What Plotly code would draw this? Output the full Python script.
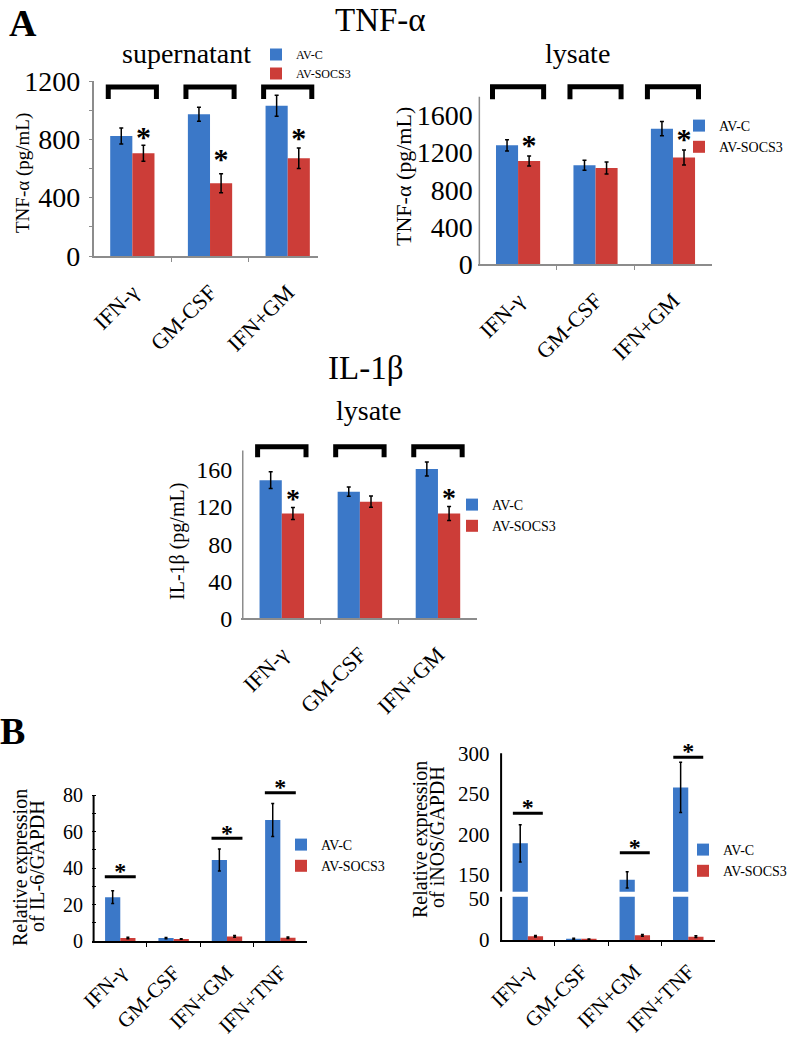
import plotly.graph_objects as go

W, H = 787, 1040
BLUE = "#3b78c8"
RED = "#cc3d38"
SERIF = "Liberation Serif"
GREY = "#8c8c8c"
BARGAP = 0.43
OFF = (1 - BARGAP) / 4  # centre offset of each bar within a group

series = ["AV-C", "AV-SOCS3"]

# ---------------- Panel A: TNF-α supernatant ----------------
a1_cats = ["IFN-γ", "GM-CSF", "IFN+GM"]
a1_avc = [823, 972, 1031]
a1_avc_err = [55, 48, 72]
a1_socs = [705, 499, 670]
a1_socs_err = [55, 65, 70]
a1_yticks = [0, 200, 400, 600, 800, 1000, 1200]
a1_ylabels = ["0", "", "400", "", "800", "", "1200"]
a1_star_y = [800, 651, 789]
a1_bracket = [1077, 1159]        # leg end, top
a1_ymax = 1200

# ---------------- Panel A: TNF-α lysate ----------------
a2_cats = ["IFN-γ", "GM-CSF", "IFN+GM"]
a2_avc = [1278, 1064, 1457]
a2_avc_err = [60, 54, 77]
a2_socs = [1110, 1035, 1147]
a2_socs_err = [54, 64, 80]
a2_yticks = [0, 400, 800, 1200, 1600]
a2_star_y = [1250, None, 1322]
a2_bracket = [1772, 1908]
a2_ymax = 1800

# ---------------- Panel A: IL-1β lysate ----------------
a3_cats = ["IFN-γ", "GM-CSF", "IFN+GM"]
a3_avc = [149, 136.6, 161]
a3_avc_err = [9, 5, 7.5]
a3_socs = [113, 125.8, 113]
a3_socs_err = [6.5, 6, 7.5]
a3_yticks = [0, 40, 80, 120, 160]
a3_star_y = [127, None, 127.6]
a3_bracket = [173.7, 185.1]
a3_ymax = 181

# ---------------- Panel B: IL-6 ----------------
b1_cats = ["IFN-γ", "GM-CSF", "IFN+GM", "IFN+TNF"]
b1_avc = [24, 1.6, 44.4, 66.3]
b1_avc_err = [3.5, 0.3, 6, 9]
b1_socs = [1.6, 1.1, 2.5, 1.8]
b1_socs_err = [0.4, 0.2, 0.5, 0.4]
b1_yticks = [0, 10, 20, 30, 40, 50, 60, 70, 80]
b1_ylabels = ["0", "", "20", "", "40", "", "60", "", "80"]
b1_sig_y = [35.2, None, 56.3, 81.3]
b1_star_y = [37.5, None, 58.3, 83.5]
b1_ymax = 80

# ---------------- Panel B: iNOS (broken axis) ----------------
b2_cats = ["IFN-γ", "GM-CSF", "IFN+GM", "IFN+TNF"]
b2_avc = [189, 1.5, 144, 258]
b2_avc_err = [23, 0.5, 10, 31]
b2_socs = [4.5, 1.0, 5.6, 4.0]
b2_socs_err = [1, 0.3, 1, 1]
b2_low_ticks = [0, 50]
b2_high_ticks = [150, 200, 250, 300]
b2_low_range = [0, 52]
b2_high_range = [129.4, 310]
b2_high_max = 300
b2_sig_y = [226, None, 177.5, 295]
b2_star_y = [231, None, 181.6, 301]


def px_x(p):
    return p / W


def px_y(p):
    return 1 - p / H


fig = go.Figure()


def add_bars(xa, ya, cats, blue, blue_err, red, red_err, legend, showlegend=True, ew=2):
    xs = list(range(len(cats)))
    for name, vals, errs, color in ((series[0], blue, blue_err, BLUE),
                                    (series[1], red, red_err, RED)):
        fig.add_trace(go.Bar(
            x=xs, y=vals, name=name, xaxis=xa, yaxis=ya,
            marker=dict(color=color, line=dict(width=0)),
            error_y=dict(type="data", array=errs, color="black", thickness=1.5, width=ew),
            legend=legend, showlegend=showlegend, hoverinfo="skip"))


def add_brackets(xa, ya, n, levels, half):
    leg, top = levels
    xs, ys = [], []
    for i in range(n):
        xs += [i - half, i - half, i + half, i + half, None]
        ys += [leg, top, top, leg, None]
    fig.add_trace(go.Scatter(x=xs, y=ys, mode="lines", xaxis=xa, yaxis=ya,
                             line=dict(color="black", width=5), showlegend=False,
                             hoverinfo="skip"))


def add_sig_lines(xa, ya, levels, half):
    xs, ys = [], []
    for i, v in enumerate(levels):
        if v is None:
            continue
        xs += [i - half, i + half, None]
        ys += [v, v, None]
    fig.add_trace(go.Scatter(x=xs, y=ys, mode="lines", xaxis=xa, yaxis=ya,
                             line=dict(color="black", width=3), showlegend=False,
                             hoverinfo="skip"))


def add_stars(xa, ya, levels, dx, size):
    xs = [i + dx for i, v in enumerate(levels) if v is not None]
    ys = [v for v in levels if v is not None]
    fig.add_trace(go.Scatter(x=xs, y=ys, mode="text", text=["<b>*</b>"] * len(xs),
                             textposition="middle center", xaxis=xa, yaxis=ya,
                             textfont=dict(family=SERIF, size=size, color="black"),
                             cliponaxis=False, showlegend=False, hoverinfo="skip"))


def add_yline(xa, ya, y0, y1, color, width):
    fig.add_trace(go.Scatter(x=[-0.5, -0.5], y=[y0, y1], mode="lines", xaxis=xa, yaxis=ya,
                             line=dict(color=color, width=width), showlegend=False,
                             hoverinfo="skip"))


# Panel A1
add_bars("x", "y", a1_cats, a1_avc, a1_avc_err, a1_socs, a1_socs_err, "legend")
add_brackets("x", "y", 3, a1_bracket, 0.31)
add_stars("x", "y", a1_star_y, OFF, 30)

# Panel A2
add_bars("x2", "y2", a2_cats, a2_avc, a2_avc_err, a2_socs, a2_socs_err, "legend2")
add_brackets("x2", "y2", 3, a2_bracket, 0.33)
add_stars("x2", "y2", a2_star_y, OFF, 30)
add_yline("x2", "y2", 0, a2_ymax, GREY, 1.5)

# Panel A3
add_bars("x3", "y3", a3_cats, a3_avc, a3_avc_err, a3_socs, a3_socs_err, "legend3")
add_brackets("x3", "y3", 3, a3_bracket, 0.31)
add_stars("x3", "y3", a3_star_y, OFF, 28)
add_yline("x3", "y3", 0, a3_ymax, GREY, 1.5)

# Panel B1
add_bars("x4", "y4", b1_cats, b1_avc, b1_avc_err, b1_socs, b1_socs_err, "legend4", ew=1.5)
add_sig_lines("x4", "y4", b1_sig_y, 0.29)
add_stars("x4", "y4", b1_star_y, 0, 24)
add_yline("x4", "y4", 0, b1_ymax, "black", 2)

# Panel B2 lower and upper
add_bars("x5", "y5", b2_cats, b2_avc, b2_avc_err, b2_socs, b2_socs_err, "legend5", ew=1.5)
add_yline("x5", "y5", 0, b2_low_range[1], "black", 2)
add_bars("x6", "y6", b2_cats, b2_avc, b2_avc_err, b2_socs, b2_socs_err, "legend5",
         showlegend=False, ew=1.5)
add_sig_lines("x6", "y6", b2_sig_y, 0.28)
add_stars("x6", "y6", b2_star_y, 0, 24)
add_yline("x6", "y6", b2_high_range[0], b2_high_max, "black", 2)


def xaxis(dom, rng, cats, anchor, linecolor, linewidth, font_size, standoff):
    n = len(cats)
    return dict(domain=[px_x(dom[0]), px_x(dom[1])], range=rng, anchor=anchor,
                automargin=False,
                tickmode="array", tickvals=list(range(n)), ticktext=cats,
                tickangle=-45, ticks="", showgrid=False, zeroline=False,
                tickfont=dict(family=SERIF, size=font_size, color="black"),
                showline=True, linecolor=linecolor, linewidth=linewidth,
                ticklabelstandoff=standoff,
                minor=dict(tickmode="array", tickvals=[i + 0.5 for i in range(n - 1)],
                           ticks="outside", ticklen=4, tickcolor=linecolor, tickwidth=1))


def yaxis(dom, rng, anchor, tickvals, ticktext, font_size, standoff, showline=False,
          ticks="", linecolor=GREY, linewidth=1.5, ticklen=3):
    return dict(domain=[px_y(dom[1]), px_y(dom[0])], range=rng, anchor=anchor,
                automargin=False,
                tickmode="array", tickvals=tickvals, ticktext=ticktext,
                tickfont=dict(family=SERIF, size=font_size, color="black"),
                showgrid=False, zeroline=False, showline=showline,
                linecolor=linecolor, linewidth=linewidth, ticks=ticks,
                ticklen=ticklen, tickcolor=linecolor, tickwidth=1,
                ticklabelstandoff=standoff)


layout_axes = dict(
    xaxis=xaxis((93.5, 318), [-0.5, 2.39], a1_cats, "y", GREY, 1.5, 22, 13),
    yaxis=yaxis((81, 256), [0, a1_ymax], "x", a1_yticks, a1_ylabels, 28, 3,
                showline=True, ticks="outside"),
    xaxis2=xaxis((477.8, 711.7), [-0.52, 2.5], a2_cats, "y2", GREY, 1.5, 22, 13),
    yaxis2=yaxis((78.1, 264.3), [0, 2000], "x2", a2_yticks, [str(v) for v in a2_yticks], 28, 4),
    xaxis3=xaxis((241.2, 477), [-0.52, 2.5], a3_cats, "y3", GREY, 1.5, 22, 13),
    yaxis3=yaxis((437.5, 618.3), [0, 195], "x3", a3_yticks, [str(v) for v in a3_yticks], 24, 8),
    xaxis4=xaxis((92, 307), [-0.53, 3.5], b1_cats, "y4", "black", 2, 21, 9),
    yaxis4=yaxis((776.75, 941), [0, 90], "x4", b1_yticks, b1_ylabels, 20, 8,
                 ticks="inside", linecolor="black", ticklen=4),
    xaxis5=xaxis((499.5, 715), [-0.53, 3.5], b2_cats, "y5", "black", 2, 21, 9),
    yaxis5=yaxis((896.7, 940), b2_low_range, "x5", b2_low_ticks,
                 [str(v) for v in b2_low_ticks], 21, 9),
    xaxis6=dict(domain=[px_x(499.5), px_x(715)], range=[-0.53, 3.5], anchor="y6",
                visible=False, showgrid=False, zeroline=False, automargin=False),
    yaxis6=yaxis((745.2, 891.7), b2_high_range, "x6", b2_high_ticks,
                 [str(v) for v in b2_high_ticks], 21, 9),
)


def legend(text_x, row_y, size):
    return dict(x=px_x(text_x - 36), y=px_y(row_y - 10), xanchor="left", yanchor="top",
                bgcolor="rgba(0,0,0,0)", borderwidth=0,
                font=dict(family=SERIF, size=size, color="black"),
                tracegroupgap=0, itemwidth=30)


annotations = []


def text(t, x, y, size, bold=False, angle=0, yanchor="middle"):
    annotations.append(dict(
        text=f"<b>{t}</b>" if bold else t, x=px_x(x), y=px_y(y), xref="paper", yref="paper",
        xanchor="center", yanchor=yanchor, showarrow=False, textangle=angle,
        font=dict(family=SERIF, size=size, color="black")))


text("A", 23, 0, 38, bold=True, yanchor="top")
text("TNF-α", 380, 0, 33, yanchor="top")
text("supernatant", 186, 53, 28)
text("lysate", 577, 53, 28)
text("IL-1β", 365, 368, 33)
text("lysate", 368, 411, 28)
text("B", 12, 731, 38, bold=True)
text("TNF-α (pg/mL)", 23, 173, 19, angle=-90)
text("TNF-α (pg/mL)", 403, 177, 22, angle=-90)
text("IL-1β (pg/mL)", 177, 542, 20, angle=-90)
text("Relative expression", 20, 868, 20, angle=-90)
text("of IL-6/GAPDH", 37, 866, 20, angle=-90)
text("Relative expression", 420, 840, 20, angle=-90)
text("of iNOS/GAPDH", 437, 837, 20, angle=-90)

fig.update_layout(
    width=W, height=H, autosize=False,
    margin=dict(l=0, r=0, t=0, b=0, pad=0, autoexpand=False),
    paper_bgcolor="white", plot_bgcolor="white",
    barmode="group", bargap=BARGAP, bargroupgap=0,
    font=dict(family=SERIF, color="black"),
    legend=legend(292, 50, 12),
    legend2=legend(715, 120, 14),
    legend3=legend(488, 499, 14),
    legend4=legend(317, 839, 14),
    legend5=legend(719, 844, 14),
    annotations=annotations,
    **layout_axes,
)

fig.write_html("out.html", config={"displayModeBar": False},
               post_script="document.body.style.margin='0';document.body.style.overflow='hidden';")
